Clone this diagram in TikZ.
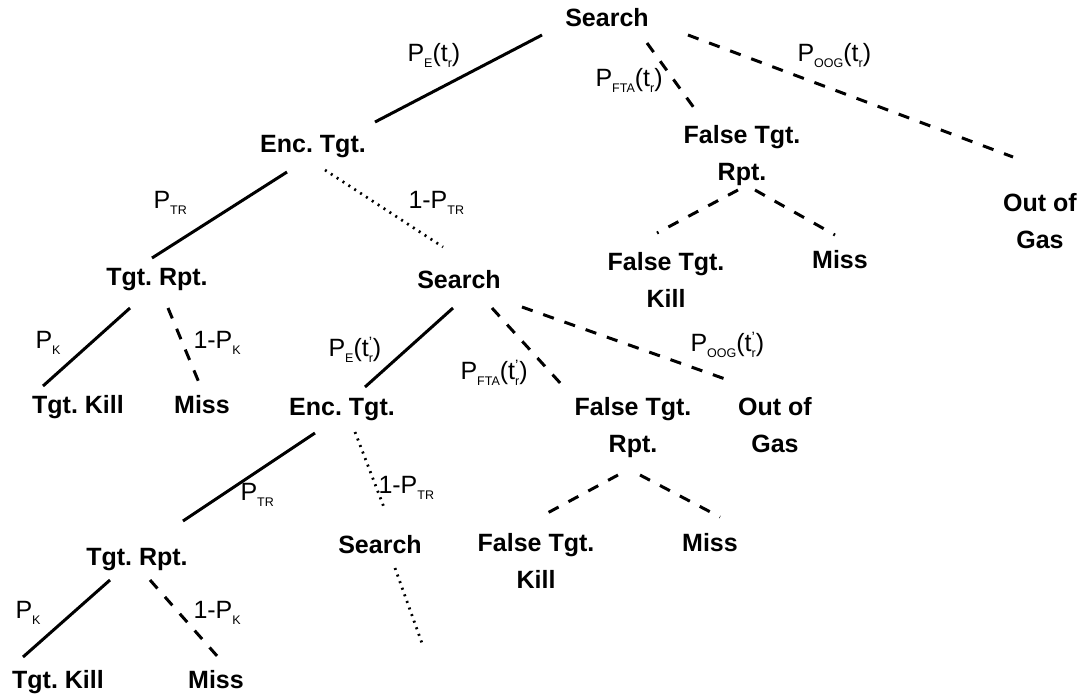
\documentclass[tikz,border=0pt]{standalone}
\usepackage{fontspec}
\setmainfont{Liberation Sans}
\frenchspacing
\newcommand{\sbs}[1]{\raisebox{-2.6pt}{\fontsize{5}{5}\selectfont #1}}
\newcommand{\tsub}{t\sbs{r}}
\newcommand{\tsubp}{t\rlap{\raisebox{3.4pt}{\fontsize{6}{6}\selectfont '}}\sbs{r}}

\begin{document}
\begin{tikzpicture}[x=0.4pt,y=-0.4pt,
    state/.style={font=\bfseries\fontsize{10}{14.8}\selectfont, inner sep=0pt, anchor=north, align=center},
    prob/.style={font=\fontsize{10}{12}\selectfont, inner sep=0pt, anchor=base west},
    solidln/.style={line width=1.2pt},
    dashln/.style={line width=1.2pt, dash pattern=on 4.5pt off 4.5pt},
    dotln/.style={line width=1.1pt, dash pattern=on 0.8pt off 2pt}]

    \useasboundingbox (0,0) rectangle (1086,696);

    % states
    \node[state] (S0) at (607,8) {Search};
    \node[state] (E1) at (313,135) {Enc. Tgt.};
    \node[state] (F1) at (742,125) {False Tgt.\\Rpt.};
    \node[state] (G1) at (1040,193) {Out of\\Gas};
    \node[state] (R1) at (157,268) {Tgt. Rpt.};
    \node[state] (S1) at (459,270) {Search};
    \node[state] (K1) at (666,252) {False Tgt.\\Kill};
    \node[state] (M1) at (840,250) {Miss};
    \node[state] (T1) at (78,395) {Tgt. Kill};
    \node[state] (N1) at (202,395) {Miss};
    \node[state] (E2) at (342,398) {Enc. Tgt.};
    \node[state] (F2) at (633,397) {False Tgt.\\Rpt.};
    \node[state] (G2) at (775,397) {Out of\\Gas};
    \node[state] (R2) at (137,548) {Tgt. Rpt.};
    \node[state] (S2) at (380,535) {Search};
    \node[state] (K2) at (536,533) {False Tgt.\\Kill};
    \node[state] (M2) at (710,533) {Miss};
    \node[state] (T2) at (58,670) {Tgt. Kill};
    \node[state] (N2) at (216,670) {Miss};
    \coordinate (X) at (423,646);

    % branches
    \draw[solidln] ([shift={(-65,27)}]S0.north) -- ([shift={(62,-13)}]E1.north);
    \draw[dashln]  ([shift={(40,35)}]S0.north) -- ([shift={(-45,-13)}]F1.north);
    \draw[dashln]  ([shift={(81,27)}]S0.north) -- ([shift={(-27,-36)}]G1.north);
    \draw[solidln] ([shift={(-26,37)}]E1.north) -- ([shift={(-5,-10)}]R1.north);
    \draw[dotln]   ([shift={(12,35)}]E1.north) -- ([shift={(-16,-23)}]S1.north);
    \draw[dashln]  ([shift={(-4,65)}]F1.north) -- ([shift={(-9,-19)}]K1.north);
    \draw[dashln]  ([shift={(13,65)}]F1.north) -- ([shift={(-5,-15)}]M1.north);
    \draw[solidln] ([shift={(-27,40)}]R1.north) -- ([shift={(-35,-9)}]T1.north);
    \draw[dashln]  ([shift={(11,40)}]R1.north) -- ([shift={(-2,-10)}]N1.north);
    \draw[solidln] ([shift={(-6,38)}]S1.north) -- ([shift={(23,-11)}]E2.north);
    \draw[dashln]  ([shift={(33,38)}]S1.north) -- ([shift={(-71,-12)}]F2.north);
    \draw[dashln]  ([shift={(63,37)}]S1.north) -- ([shift={(-47,-17)}]G2.north);
    \draw[solidln] ([shift={(-27,35)}]E2.north) -- ([shift={(46,-27)}]R2.north);
    \draw[dotln]   ([shift={(13,34)}]E2.north) -- ([shift={(5,-25)}]S2.north);
    \draw[dotln]   ([shift={(15,33)}]S2.north) -- (X);
    \draw[dashln]  ([shift={(-15,78)}]F2.north) -- ([shift={(4,-16)}]K2.north);
    \draw[dashln]  ([shift={(7,78)}]F2.north) -- ([shift={(10,-16)}]M2.north);
    \draw[solidln] ([shift={(-27,32)}]R2.north) -- ([shift={(-35,-13)}]T2.north);
    \draw[dashln]  ([shift={(13,32)}]R2.north) -- ([shift={(2,-13)}]N2.north);

    % probabilities
    \node[prob] (pE1) at (407,61) {P\sbs{E}(\tsub)};
    \node[prob] (pF1) at (595,86) {P\sbs{FTA}(\tsub)};
    \node[prob] (pG1) at (797,61) {P\sbs{OOG}(\tsub)};
    \node[prob] (pT1) at (153,208) {P\sbs{TR}};
    \node[prob] (qT1) at (408,208) {1-P\sbs{TR}};
    \node[prob] (pK1) at (35,348) {P\sbs{K}};
    \node[prob] (qK1) at (193,348) {1-P\sbs{K}};
    \node[prob] (pE2) at (328,356) {P\sbs{E}(\tsubp)};
    \node[prob] (pF2) at (460,379) {P\sbs{FTA}(\tsubp)};
    \node[prob] (pG2) at (690,351) {P\sbs{OOG}(\tsubp)};
    \node[prob] (pT2) at (240,500) {P\sbs{TR}};
    \node[prob] (qT2) at (378,493) {1-P\sbs{TR}};
    \node[prob] (pK2) at (15,618) {P\sbs{K}};
    \node[prob] (qK2) at (193,618) {1-P\sbs{K}};

\end{tikzpicture}
\end{document}
